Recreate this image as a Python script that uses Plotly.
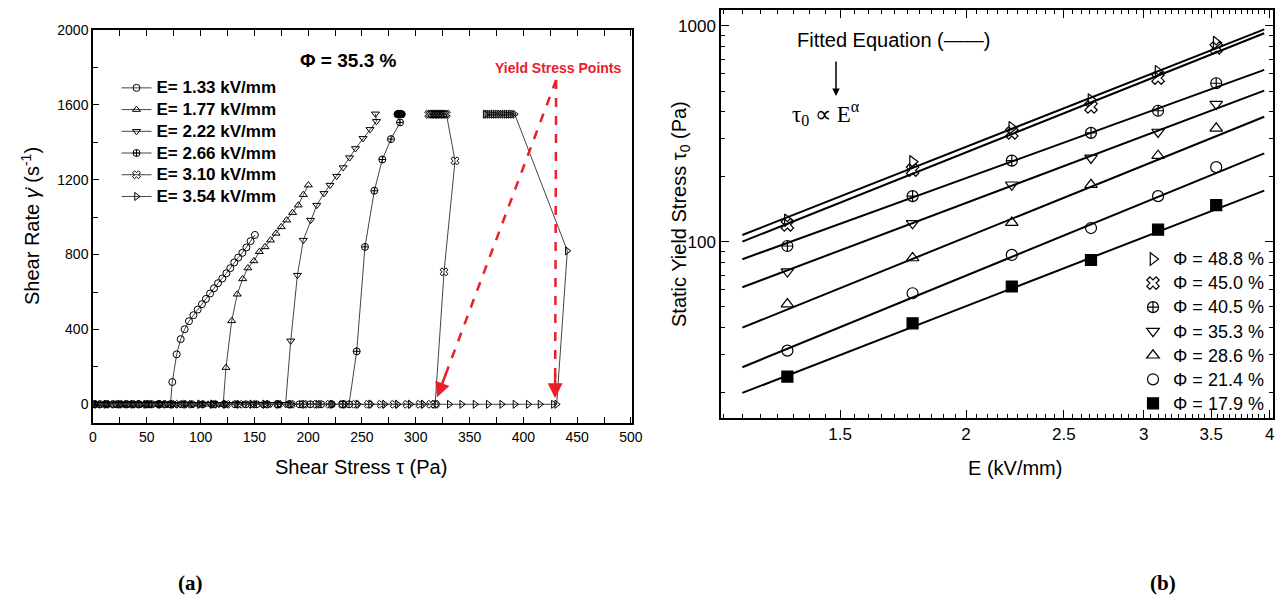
import numpy as np
import plotly.graph_objects as go

W, H = 1283, 605
def px(x): return x / W
def py(y): return 1 - y / H

# ---------------- Panel (a) data: shear stress (Pa) vs shear rate (1/s), phi = 35.3 %
e_labels = ["E= 1.33 kV/mm", "E= 1.77 kV/mm", "E= 2.22 kV/mm",
            "E= 2.66 kV/mm", "E= 3.10 kV/mm", "E= 3.54 kV/mm"]

tau_133 = [1, 7, 13, 19, 25, 31, 37, 43, 49, 55, 61, 67, 72,
           73.7, 77.8, 81.5, 85.2, 89.2, 93.3, 97.3, 101.3, 105, 108.8, 112.5,
           116.2, 120.2, 124, 127.6, 131.3, 135, 138.8, 142.6, 146.5, 150.5]
rate_133 = [0, 0, 0, 0, 0, 0, 0, 0, 0, 0, 0, 0, 0,
            119, 267, 348, 401, 444, 476, 506, 535, 563, 592, 620,
            647, 672, 700, 727, 758, 784, 809, 838, 872, 905]

tau_177 = [3, 11, 19, 27, 35, 43, 51, 59, 67, 75, 83, 91, 99, 107, 115, 121,
           123.6, 128.9, 134.1, 139.1, 144, 149.5, 154.6, 159.9, 165, 170.1,
           175, 180, 185.5, 190.8, 195.5, 200.2]
rate_177 = [0, 0, 0, 0, 0, 0, 0, 0, 0, 0, 0, 0, 0, 0, 0, 0,
            196, 446, 588, 670, 728, 766, 815, 841, 877, 913,
            948, 984, 1024, 1064, 1120, 1171]

tau_222 = [5, 13, 21, 29, 37, 45, 53, 61, 69, 77, 85, 93, 101, 109, 117, 125,
           133, 141, 149, 157, 165, 173, 179,
           183.8, 190, 195.5, 202.3, 208, 214.7, 220.3, 226.5, 232.5, 238.5,
           244, 251, 257.5, 263.5, 262.5]
rate_222 = [0, 0, 0, 0, 0, 0, 0, 0, 0, 0, 0, 0, 0, 0, 0, 0,
            0, 0, 0, 0, 0, 0, 0,
            339, 690, 877, 984, 1064, 1127, 1171, 1219, 1265, 1318,
            1367, 1421, 1469, 1512, 1552]

tau_266 = [2, 12, 22, 32, 42, 52, 62, 72, 82, 92, 102, 112, 122, 132, 142, 152,
           162, 172, 182, 192, 202, 212, 222, 232, 238,
           245.1, 252.8, 261.5, 268.9, 277, 285.4, 283, 284, 285, 286, 287]
rate_266 = [0, 0, 0, 0, 0, 0, 0, 0, 0, 0, 0, 0, 0, 0, 0, 0,
            0, 0, 0, 0, 0, 0, 0, 0, 0,
            283, 841, 1141, 1308, 1417, 1506, 1550, 1552, 1550, 1552, 1550]

tau_310 = [4, 16, 28, 40, 52, 64, 76, 88, 100, 112, 124, 136, 148, 160, 172, 184,
           196, 208, 220, 232, 244, 256, 268, 280, 292, 304, 314, 318,
           326.3, 336.5, 328.5, 327, 325.5, 324, 322.5, 321, 319.5, 318, 316.5,
           315, 313.5, 312]
rate_310 = [0, 0, 0, 0, 0, 0, 0, 0, 0, 0, 0, 0, 0, 0, 0, 0,
            0, 0, 0, 0, 0, 0, 0, 0, 0, 0, 0, 0,
            708, 1301, 1550, 1550, 1550, 1550, 1550, 1550, 1550, 1550, 1550,
            1550, 1550, 1550]

tau_354 = [0, 12, 25, 37, 49, 62, 74, 86, 99, 111, 123, 136, 148, 160, 173, 185,
           197, 209, 222, 234, 246, 258, 271, 283, 295, 307, 319.5, 331.2, 342.7,
           355.1, 367.4, 379.9, 392.2, 404.6, 415.5, 427.9, 431,
           440.9, 392, 390, 388, 386, 384, 382, 380, 378, 376, 374, 372, 370,
           368, 366, 364.5]
rate_354 = [0, 0, 0, 0, 0, 0, 0, 0, 0, 0, 0, 0, 0, 0, 0, 0,
            0, 0, 0, 0, 0, 0, 0, 0, 0, 0, 0, 0, 0,
            0, 0, 0, 0, 0, 0, 0, 0,
            820, 1550, 1550, 1550, 1550, 1550, 1550, 1550, 1550, 1550, 1550, 1550, 1550,
            1550, 1550, 1550]

yield_label_pt = (430.5, 1733)
yield_pts_tau = [319.8, 429.5]
yield_pts_rate = [37, 32]

# ---------------- Panel (b) data: static yield stress vs E
E_vals = [1.33, 1.77, 2.22, 2.66, 3.10, 3.54]
phi_labels = ["Φ = 48.8 %", "Φ = 45.0 %", "Φ = 40.5 %", "Φ = 35.3 %",
              "Φ = 28.6 %", "Φ = 21.4 %", "Φ = 17.9 %"]
tau0_488 = [126, 235, 338, 454, 614, 837]
tau0_450 = [120, 215, 320, 422, 574, 791]
tau0_405 = [95.8, 163, 238, 320, 405, 543]
tau0_353 = [72.9, 122, 184, 245, 323, 435]
tau0_286 = [51.6, 84.3, 123, 184, 251, 336]
tau0_214 = [31.4, 57.9, 87.1, 116, 163, 222]
tau0_179 = [23.8, 42.0, 62.2, 82.5, 114, 148]
# fitted power-law lines, read at their two ends
fit_E = [1.2, 3.95]
fit_start = [107.7, 100.3, 83.2, 61.7, 40.1, 26.3, 20.0]
fit_end = [965, 925, 626, 502, 380, 257, 173]

fig = go.Figure()

FONT = "Liberation Sans, Arial, sans-serif"
GRAY = "#555555"
LINE = "#444444"

# ---------- panel (a) traces
sets_a = [
    (tau_133, rate_133, "circle-open"),
    (tau_177, rate_177, "triangle-up-open"),
    (tau_222, rate_222, "triangle-down-open"),
    (tau_266, rate_266, "circle-cross-open"),
    (tau_310, rate_310, "x-open"),
    (tau_354, rate_354, "triangle-right-open"),
]
for i, (xs, ys, sym) in enumerate(sets_a):
    syms = [sym] * len(xs)
    cols = [GRAY] * len(xs)
    if i == 3:
        syms = [sym if y < 1540 else "circle-cross" for y in ys]
        cols = [GRAY if y < 1540 else "#000000" for y in ys]
    if i in (4, 5):
        cols = [GRAY if y < 1540 else "#111111" for y in ys]
    fig.add_trace(go.Scatter(
        x=xs, y=ys, mode="lines+markers",
        name='<span style="font-size:17px">' + e_labels[i] + "</span>",
        xaxis="x", yaxis="y", legend="legend",
        line=dict(color=LINE, width=1),
        marker=dict(symbol=syms, size=7, color="#000000",
                    line=dict(color=cols, width=1)),
    ))

# red dashed yield stress arrows
for tx, ty in zip(yield_pts_tau, yield_pts_rate):
    fig.add_trace(go.Scatter(
        x=[yield_label_pt[0], tx], y=[yield_label_pt[1], ty], mode="lines",
        xaxis="x", yaxis="y", showlegend=False,
        line=dict(color="#e8202a", width=2.5, dash="dash"),
    ))

# ---------- panel (b) traces
sets_b = [
    (tau0_488, "triangle-right-open", GRAY),
    (tau0_450, "x-open", GRAY),
    (tau0_405, "circle-cross-open", GRAY),
    (tau0_353, "triangle-down-open", GRAY),
    (tau0_286, "triangle-up-open", GRAY),
    (tau0_214, "circle-open", GRAY),
    (tau0_179, "square", "#000000"),
]
for i in range(7):
    fig.add_trace(go.Scatter(
        x=fit_E, y=[fit_start[i], fit_end[i]], mode="lines",
        xaxis="x2", yaxis="y2", showlegend=False,
        line=dict(color="#000000", width=2),
    ))
for i, (vals, sym, col) in enumerate(sets_b):
    fig.add_trace(go.Scatter(
        x=E_vals, y=vals, mode="markers",
        name='<span style="font-size:18px">' + phi_labels[i] + "</span>",
        xaxis="x2", yaxis="y2", legend="legend2",
        marker=dict(symbol=sym, size=11, color="#000000",
                    line=dict(color="#333333" if col == GRAY else "#000000", width=1.2)),
    ))

axis_common = dict(showgrid=False, zeroline=False, linecolor="#000000", linewidth=1.5,
                   ticks="inside", tickcolor="#000000",
                   tickfont=dict(family=FONT, size=14, color="#000000"))

fig.update_layout(
    width=W, height=H,
    margin=dict(l=0, r=0, t=0, b=0, pad=0, autoexpand=False),
    paper_bgcolor="white", plot_bgcolor="white",
    font=dict(family=FONT, color="#000000"),
    xaxis=dict(domain=[px(93), px(632)], range=[0, 501], dtick=50, tick0=0,
               mirror="ticks", ticklen=6, tickwidth=1, automargin=False,
               minor=dict(dtick=25, tick0=0, ticks="inside", ticklen=6, tickcolor="#000000"),
               anchor="y", **axis_common),
    yaxis=dict(domain=[py(423), py(30)], range=[-100, 2000], dtick=400, tick0=0,
               mirror=True, ticklen=6, tickwidth=1, automargin=False,
               minor=dict(dtick=200, tick0=0, ticks="inside", ticklen=5, tickcolor="#000000"),
               anchor="x", **axis_common),
    xaxis2=dict(domain=[px(721), px(1273)], type="log",
                range=[np.log10(1.143), np.log10(4.03)],
                tickvals=[1.5, 2, 2.5, 3, 3.5, 4], ticktext=["1.5", "2", "2.5", "3", "3.5", "4"],
                mirror="ticks", ticklen=8, tickwidth=1, automargin=False,
                minor=dict(tickvals=list(np.round(np.arange(1.15, 4.02, 0.05), 2)),
                           ticks="inside", ticklen=4, tickcolor="#000000"),
                anchor="y2", showgrid=False, zeroline=False, linecolor="#000000", linewidth=1.5,
                ticks="inside", tickcolor="#000000",
                tickfont=dict(family=FONT, size=17, color="#000000")),
    yaxis2=dict(domain=[py(418), py(10)], type="log", range=[1.185, 3.074],
                tickvals=[100, 1000], ticktext=["100", "1000"],
                mirror="ticks", ticklen=8, tickwidth=1, automargin=False,
                minor=dict(dtick="D1", ticks="inside", ticklen=4, tickcolor="#000000"),
                anchor="x2", showgrid=False, zeroline=False, linecolor="#000000", linewidth=1.5,
                ticks="inside", tickcolor="#000000",
                tickfont=dict(family=FONT, size=17, color="#000000")),
    legend=dict(x=px(116.5), y=py(72), xanchor="left", yanchor="top",
                bgcolor="rgba(0,0,0,0)", borderwidth=0, tracegroupgap=0,
                font=dict(family=FONT, size=14.4, color="#000000", weight="bold")),
    legend2=dict(x=px(1133), y=py(242), xanchor="left", yanchor="top",
                 bgcolor="rgba(0,0,0,0)", borderwidth=0, itemwidth=30,
                 font=dict(family=FONT, size=16.2, color="#000000")),
)

ann = []
def txt(x, y, t, size, bold=False, family=FONT, color="#000000", angle=0, xanchor="center"):
    ann.append(dict(x=px(x), y=py(y), xref="paper", yref="paper", text=t, showarrow=False,
                    xanchor=xanchor, yanchor="middle", textangle=angle,
                    font=dict(family=family, size=size, color=color,
                              weight="bold" if bold else "normal")))

txt(30, 226, "Shear Rate <i>γ̇</i> (s<sup>-1</sup>)", 20, angle=-90)
txt(361, 467, "Shear Stress τ (Pa)", 20)
txt(348, 61, "Φ = 35.3 %", 19, bold=True)
txt(558, 68, "Yield Stress Points", 14, bold=True, color="#e8202a")
txt(680, 214, "Static Yield Stress τ<sub>0</sub> (Pa)", 20, angle=-90)
txt(1015, 468, "E (kV/mm)", 20)
txt(893, 40, "Fitted Equation (——)", 20)
txt(826, 113, "τ<sub>0</sub> ∝ E<sup>α</sup>", 23, family="Liberation Serif, Times New Roman, serif")
txt(190, 583, "(a)", 21, bold=True, family="Liberation Serif, Times New Roman, serif")
txt(1163, 583, "(b)", 21, bold=True, family="Liberation Serif, Times New Roman, serif")

# arrow under "Fitted Equation"
ann.append(dict(x=px(836), y=py(96), xref="paper", yref="paper", ax=0, ay=-36,
                axref="pixel", ayref="pixel", text="", showarrow=True,
                arrowhead=2, arrowsize=1, arrowwidth=1.5, arrowcolor="#000000"))

# red arrow heads at the yield stress points
for tx, ty in zip(yield_pts_tau, yield_pts_rate):
    bx = tx + 0.08 * (yield_label_pt[0] - tx)
    by = ty + 0.08 * (yield_label_pt[1] - ty)
    ann.append(dict(x=tx, y=ty, xref="x", yref="y", ax=bx, ay=by, axref="x", ayref="y",
                    text="", showarrow=True, arrowhead=2, arrowsize=1.2, arrowwidth=2.5,
                    arrowcolor="#e8202a"))

fig.update_layout(annotations=ann)
fig.write_html(
    "out.html",
    config={"displayModeBar": False},
    post_script=(
        "document.body.style.margin='0px';document.body.style.padding='0px';"
        "document.documentElement.style.overflow='hidden';"
        "var d=document.getElementById('{plot_id}');"
        "d.style.position='fixed';d.style.left='0px';d.style.top='0px';"
    ),
)
